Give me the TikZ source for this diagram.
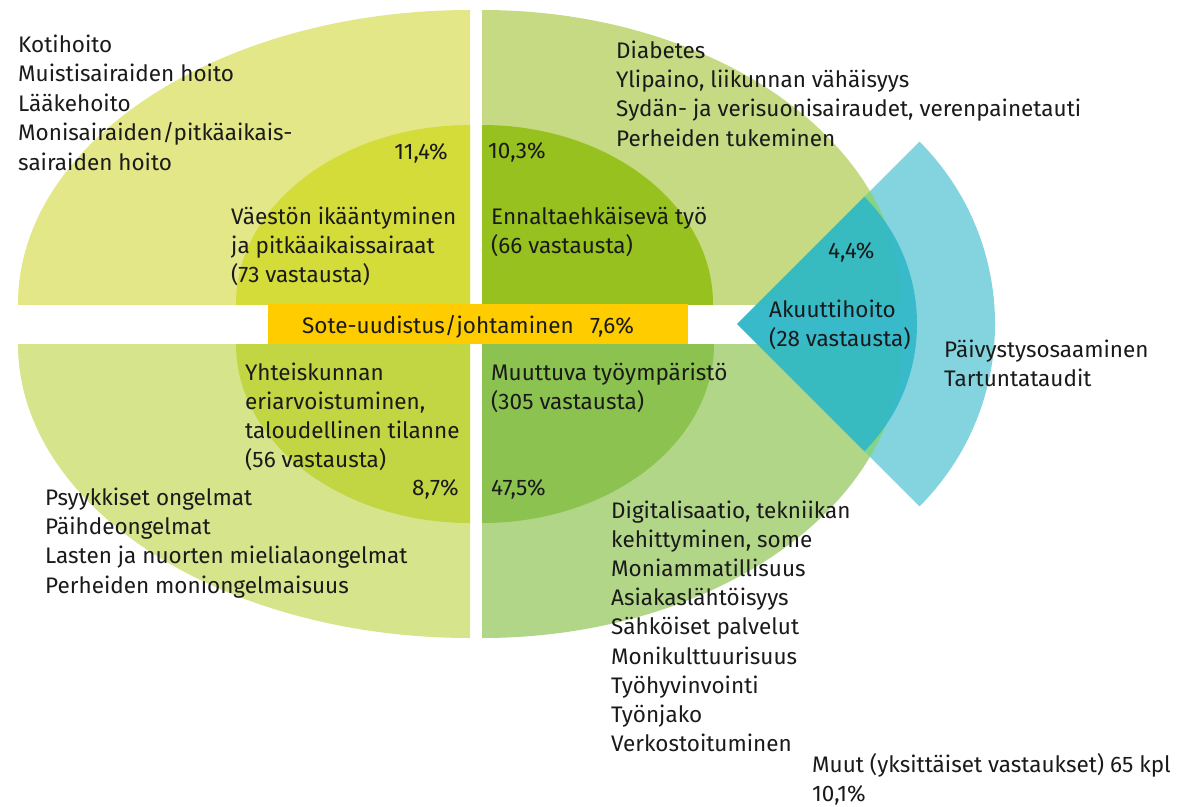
\documentclass[tikz,border=0pt]{standalone}
\usepackage{fontspec}
\setmainfont{Fira Sans}
\definecolor{ink}{HTML}{1A1A1A}
\definecolor{tlOuter}{HTML}{E3E787}
\definecolor{tlInner}{HTML}{D4DC3A}
\definecolor{trOuter}{HTML}{C5DA83}
\definecolor{trInner}{HTML}{96C11E}
\definecolor{blOuter}{HTML}{D6E48C}
\definecolor{blInner}{HTML}{C1D642}
\definecolor{brOuter}{HTML}{B2D688}
\definecolor{brInner}{HTML}{8CC250}
\definecolor{bandYellow}{HTML}{FFCC00}
\definecolor{skyBlue}{HTML}{84D4E0}
\definecolor{deepTeal}{HTML}{30B8C8}
\begin{document}
\begin{tikzpicture}[x=1pt,y=-1pt,
  lbl/.style={anchor=base west, inner sep=0pt, font=\fontsize{22.5}{29}\selectfont, text=ink},
  lblr/.style={lbl, anchor=base east}]
\useasboundingbox (0,0) rectangle (1196,806);

% upper left quarter
\begin{scope}
  \clip (0,0) rectangle (470,304);
  \fill[tlOuter] (470,304) ellipse[x radius=452, y radius=294];
  \fill[tlInner] (470,304) ellipse[x radius=234, y radius=179];
\end{scope}
% upper right quarter
\begin{scope}
  \clip (482,0) rectangle (1000,304);
  \fill[trOuter] (482,304) ellipse[x radius=420, y radius=294];
  \fill[trInner] (482,304) ellipse[x radius=231, y radius=179];
\end{scope}
% lower left quarter
\begin{scope}
  \clip (0,344) rectangle (470,700);
  \fill[blOuter] (470,344) ellipse[x radius=452, y radius=294];
  \fill[blInner] (470,344) ellipse[x radius=234, y radius=179];
\end{scope}
% lower right quarter
\begin{scope}
  \clip (482,344) rectangle (1000,700);
  \fill[brOuter] (482,344) ellipse[x radius=420, y radius=294];
  \fill[brInner] (482,344) ellipse[x radius=232, y radius=179];
\end{scope}

% acute care wedges
\coordinate (apex) at (737,324);
\begin{scope}[blend mode=darken]
  \fill[skyBlue] (apex) -- ++(-45:258) arc[start angle=-45, end angle=45, radius=258] -- cycle;
\end{scope}
\fill[deepTeal, fill opacity=0.9] (apex) -- ++(-45:180) arc[start angle=-45, end angle=45, radius=180] -- cycle;

% central band
\node[fill=bandYellow, inner sep=0pt, minimum width=420pt, minimum height=40pt] (band) at (478,324) {};
\node[lbl] (bandtxt) at (302,333) {Sote-uudistus/johtaminen};
\node[lbl] (bandpct) at (590,333) {7,6\%};

% upper left texts
\foreach \t [count=\i] in {Kotihoito, Muistisairaiden hoito, Lääkehoito, Monisairaiden/pitkäaikais-, sairaiden hoito}
  \node[lbl] (tl\i) at (18,{52+29.5*(\i-1)}) {\t};
\node[lblr] (tlpct) at (448,159) {11,4\%};
\foreach \t [count=\i] in {Väestön ikääntyminen, ja pitkäaikaissairaat, (73 vastausta)}
  \node[lbl] (tlc\i) at (231,{224+29*(\i-1)}) {\t};

% upper right texts
\node[lbl] (trpct) at (488,158) {10,3\%};
\foreach \t [count=\i] in {Ennaltaehkäisevä työ, (66 vastausta)}
  \node[lbl] (trc\i) at (491,{224+29*(\i-1)}) {\t};
\foreach \t [count=\i] in {Diabetes, {Ylipaino, liikunnan vähäisyys}, {Sydän- ja verisuonisairaudet, verenpainetauti}, Perheiden tukeminen}
  \node[lbl] (tr\i) at (616,{58+29.4*(\i-1)}) {\t};

% acute care texts
\node[lbl] (acpct) at (828,258) {4,4\%};
\foreach \t [count=\i] in {Akuuttihoito, (28 vastausta)}
  \node[lbl] (ac\i) at (769,{317+29*(\i-1)}) {\t};
\foreach \t [count=\i] in {Päivystysosaaminen, Tartuntataudit}
  \node[lbl] (ao\i) at (944,{357+29.5*(\i-1)}) {\t};

% lower left texts
\foreach \t [count=\i] in {Yhteiskunnan, {eriarvoistuminen,}, taloudellinen tilanne, (56 vastausta)}
  \node[lbl] (blc\i) at (245,{380+29*(\i-1)}) {\t};
\node[lblr] (blpct) at (459,495) {8,7\%};
\foreach \t [count=\i] in {Psyykkiset ongelmat, Päihdeongelmat, Lasten ja nuorten mielialaongelmat, Perheiden moniongelmaisuus}
  \node[lbl] (bl\i) at (45,{505+29.4*(\i-1)}) {\t};

% lower right texts
\foreach \t [count=\i] in {Muuttuva työympäristö, (305 vastausta)}
  \node[lbl] (brc\i) at (491,{380+29*(\i-1)}) {\t};
\node[lbl] (brpct) at (491,495) {47,5\%};
\foreach \t [count=\i] in {{Digitalisaatio, tekniikan}, {kehittyminen, some}, Moniammatillisuus, Asiakaslähtöisyys, Sähköiset palvelut, Monikulttuurisuus, Työhyvinvointi, Työnjako, Verkostoituminen}
  \node[lbl] (br\i) at (611,{518+29.2*(\i-1)}) {\t};

% remaining answers
\node[lbl] (other1) at (812,772) {Muut (yksittäiset vastaukset) 65 kpl};
\node[lbl] (other2) at (812,801) {10,1\%};
\end{tikzpicture}
\end{document}
